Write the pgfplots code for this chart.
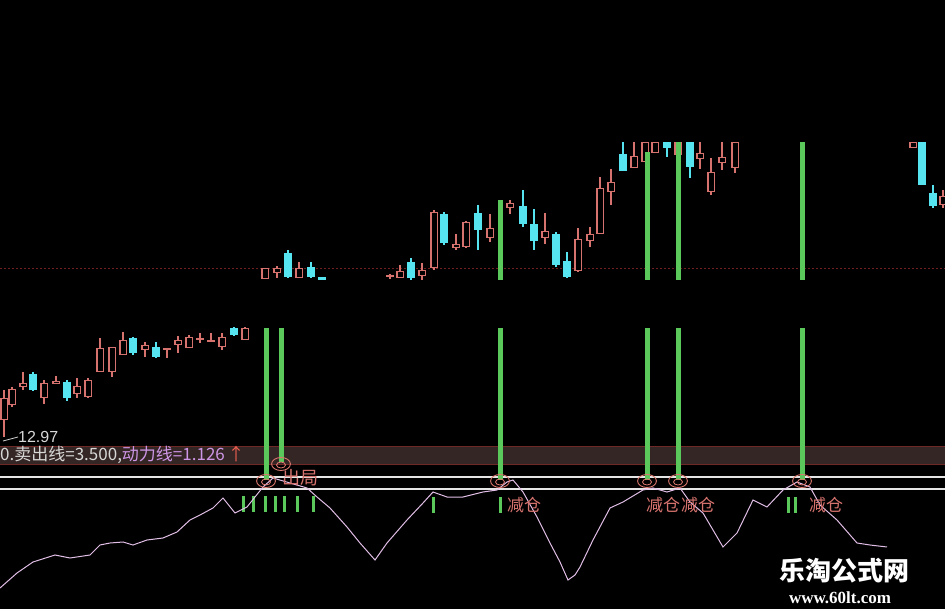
\documentclass[border=0pt]{standalone}
\usepackage{pgfplots}
\pgfplotsset{compat=1.18}
\usepackage{pgfplotstable}
\usepackage{fontspec}
\setmainfont{Liberation Sans}
\newfontfamily\cjk{Noto Sans CJK SC}
\newfontfamily\wserif{Liberation Serif}
\definecolor{cred}{RGB}{215,115,110}
\definecolor{ccyan}{RGB}{85,228,240}
\definecolor{cgreen}{RGB}{90,200,90}
\definecolor{cpink}{RGB}{225,190,230}
\definecolor{cband}{RGB}{52,38,36}
\definecolor{cbandline}{RGB}{110,40,38}
\definecolor{cgrid}{RGB}{110,30,30}
\definecolor{ctxt}{RGB}{215,215,215}
\definecolor{cviolet}{RGB}{205,150,230}
\definecolor{carrow}{RGB}{235,95,80}
\definecolor{ccirc}{RGB}{220,120,110}

% red (rising, hollow) candles: x, body top, body bottom, high, low (pixel rows)
\pgfplotstableread{
x top bot hi lo
4 398 420 390 437
12 389 405 387 407
23 383 387 372 390
44 383 398 380 404
56 381 384 376 384
77 386 394 378 398
88 380 397 378 398
100 348 372 338 372
112 347 372 347 377
123 340 355 332 355
145 345 350 342 357
167 348 350 348 358
178 340 345 336 353
189 337 348 335 348
200 338 340 333 343
211 340 342 333 342
222 337 347 333 350
245 328 340 327 340
265 268 279 268 279
277 268 273 266 278
299 268 278 262 278
390 275 277 274 279
400 271 278 265 278
422 270 276 263 280
434 212 268 210 270
456 244 248 234 250
466 222 247 221 248
490 228 238 214 242
510 203 208 200 214
545 231 238 213 244
578 239 271 228 272
590 234 241 227 247
600 188 234 177 234
611 182 192 169 205
634 156 168 142 168
645 142 162 142 162
655 142 153 142 153
678 142 155 142 155
700 153 159 142 169
711 172 192 158 195
722 157 163 142 170
735 142 168 142 173
913 142 148 142 148
943 196 205 190 208
}\redc

% cyan (falling, filled) candles
\pgfplotstableread{
x top bot hi lo
33 374 390 372 391
67 382 398 380 401
133 338 353 337 355
156 347 357 342 358
234 328 335 327 336
288 253 277 250 278
311 267 277 262 278
322 277 280 277 280
411 262 278 258 280
444 214 243 212 245
478 213 230 205 250
523 206 224 190 227
534 224 241 209 250
556 234 265 232 267
567 261 277 252 278
623 154 171 142 171
667 142 148 142 157
690 142 167 142 178
922 142 185 142 185
933 193 206 185 208
}\cyanc

% green signal lines: x, from, to
\pgfplotstableread{
x y0 y1
266 328 480
281 328 462
500 200 280
500 328 480
647 152 280
647 328 480
678 142 280
678 328 480
802 142 280
802 328 480
}\sig

% short green ticks in the lower panel
\pgfplotstableread{
x y0 y1
243 496 512
253 496 512
265 496 512
275 496 512
284 496 512
297 496 512
313 496 512
433 497 513
500 497 513
788 497 513
795 497 513
}\ticks

% power line (pixel rows)
\pgfplotstableread{
x y
0 588
17 573
33 562
55 555
70 558
90 555
100 545
110 543
123 542
133 545
147 540
163 538
177 532
190 520
200 515
213 508
223 498
235 513
247 507
263 487
273 478
290 483
307 488
317 497
330 508
347 527
360 543
375 560
387 543
407 520
423 503
433 492
447 497
463 497
483 492
497 490
507 482
513 480
523 492
537 517
550 543
560 562
568 580
575 575
580 567
593 540
610 508
623 502
643 490
653 488
667 492
680 488
690 502
703 513
713 530
723 547
737 533
753 500
767 507
783 490
797 482
810 487
820 505
837 520
857 543
870 545
887 547
}\power

\begin{document}
\begin{tikzpicture}
\fill[black] (0,0) rectangle (945pt,609pt);
\begin{axis}[
  width=945pt, height=609pt, scale only axis,
  xmin=0, xmax=945, ymin=0, ymax=609, y dir=reverse,
  axis lines=none, xtick=\empty, ytick=\empty,
  clip=true,
]
% band and horizontal lines
\addplot[fill=cband, draw=none] coordinates {(0,446) (945,446) (945,464) (0,464) (0,446)};
\addplot[cbandline, line width=1pt] coordinates {(0,446) (945,446)};
\addplot[cbandline, line width=1pt] coordinates {(0,464) (945,464)};
\addplot[cgrid, line width=0.8pt, dash pattern=on 2pt off 2pt] coordinates {(0,268) (945,268)};
\addplot[white!80!gray, line width=1.4pt] coordinates {(0,477) (945,477)};
\addplot[white!80!gray, line width=1.4pt] coordinates {(0,489) (945,489)};

% red candles
\addplot[draw=cred, line width=1.2pt, quiver={u=0, v=\thisrow{lo}-\thisrow{hi}}] table[x=x, y=hi] {\redc};
\addplot[draw=cred, line width=7.5pt, quiver={u=0, v=\thisrow{bot}-\thisrow{top}}] table[x=x, y=top] {\redc};
\addplot[draw=black, line width=5pt, quiver={u=0, v={max(\thisrow{bot}-\thisrow{top}-2.4,0)}}] table[x=x, y expr=\thisrow{top}+1.2] {\redc};
% cyan candles
\addplot[draw=ccyan, line width=1.2pt, quiver={u=0, v=\thisrow{lo}-\thisrow{hi}}] table[x=x, y=hi] {\cyanc};
\addplot[draw=ccyan, line width=7.5pt, quiver={u=0, v=\thisrow{bot}-\thisrow{top}}] table[x=x, y=top] {\cyanc};

% green signal lines
\addplot[draw=cgreen, line width=5pt, quiver={u=0, v=\thisrow{y1}-\thisrow{y0}}] table[x=x, y=y0] {\sig};
\addplot[draw=cgreen, line width=3pt, quiver={u=0, v=\thisrow{y1}-\thisrow{y0}}] table[x=x, y=y0] {\ticks};

% circles at the foot of the signals
\addplot[only marks, mark=o, mark size=6.5pt, mark options={draw=ccirc, line width=0.9pt, xscale=1.45}]
  coordinates {(266,481) (500,481) (647,481) (678,481) (802,481) (281,464)};
\addplot[only marks, mark=o, mark size=3pt, mark options={draw=ccirc, line width=0.8pt, xscale=1.5}]
  coordinates {(266,482) (500,482) (647,482) (678,482) (802,482) (281,465)};

% power line
\addplot[cpink, line width=1pt] table[x=x, y=y] {\power};

% 12.97 marker
\addplot[ctxt, line width=0.8pt] coordinates {(3,441) (18,437)};
\node[anchor=west, inner sep=0pt, text=ctxt, font=\fontsize{16}{18}\selectfont] at (axis cs:18,437) {12.97};

% indicator caption
\node[anchor=west, inner sep=0pt, font=\cjk\fontsize{17}{18}\selectfont] at (axis cs:0,455)
  {\textcolor{ctxt}{0.卖出线=3.500,}\textcolor{cviolet}{动力线=1.126}\,\textcolor{carrow}{↑}};

% signal labels
\node[text=cred, font=\cjk\fontsize{18}{20}\selectfont, inner sep=0pt] at (axis cs:300,478) {出局};
\node[text=cred, font=\cjk\fontsize{17}{18}\selectfont, inner sep=0pt] at (axis cs:524,505) {减仓};
\node[text=cred, font=\cjk\fontsize{17}{18}\selectfont, inner sep=0pt] at (axis cs:663,505) {减仓};
\node[text=cred, font=\cjk\fontsize{17}{18}\selectfont, inner sep=0pt] at (axis cs:698,505) {减仓};
\node[text=cred, font=\cjk\fontsize{17}{18}\selectfont, inner sep=0pt] at (axis cs:826,505) {减仓};

% watermark
\node[text=white, font=\cjk\bfseries\fontsize{26}{28}\selectfont, inner sep=0pt] at (axis cs:844,571) {乐淘公式网};
\node[text=white, font=\wserif\bfseries\fontsize{17}{18}\selectfont, inner sep=0pt] at (axis cs:840,598) {www.60lt.com};
\end{axis}
\pgfresetboundingbox
\path (0,0) rectangle (945pt,609pt);
\end{tikzpicture}
\end{document}
